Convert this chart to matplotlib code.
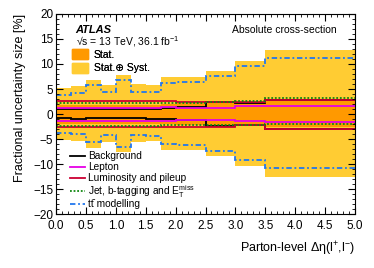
import matplotlib
matplotlib.use("Agg")
import matplotlib.pyplot as plt
from matplotlib.patches import Patch
from matplotlib.ticker import MultipleLocator
import numpy as np

plt.rcParams['font.family'] = ['Liberation Sans', 'DejaVu Sans']
plt.rcParams['mathtext.fontset'] = 'custom'
plt.rcParams['mathtext.rm'] = 'Liberation Sans'
plt.rcParams['mathtext.it'] = 'Liberation Sans:italic'

# bin edges of parton-level delta eta
edges = [0, 0.25, 0.5, 0.75, 1.0, 1.25, 1.5, 1.75, 2.0, 2.5, 3.0, 3.5, 5.0]

# total (stat + syst) band
total_up = [5.3, 5.7, 6.8, 5.9, 7.8, 6.1, 5.9, 7.3, 7.4, 8.6, 10.5, 12.8]
total_dn = [-5.1, -5.3, -6.7, -5.6, -7.5, -5.5, -5.4, -7.1, -7.2, -8.4, -10.3, -12.5]

# statistical band
stat_up = [1.9, 1.9, 1.9, 1.9, 1.9, 1.9, 1.9, 2.0, 2.2, 2.2, 2.4, 3.0]
stat_dn = [-1.9, -1.9, -1.9, -1.9, -1.9, -1.9, -1.9, -2.0, -2.1, -2.1, -2.3, -2.6]

# individual systematics
bkg_up = [1.0, 1.1, 1.0, 1.1, 1.0, 1.0, 1.1, 1.3, 1.4, 2.4, 2.2, 2.9]
bkg_dn = [-0.8, -0.9, -0.8, -0.8, -0.8, -0.8, -0.9, -1.0, -1.2, -2.3, -2.1, -2.9]
lep_up = [1.3, 1.3, 1.3, 1.3, 1.3, 1.3, 1.3, 1.4, 1.3, 1.3, 1.6, 1.7]
lep_dn = [-1.3, -1.3, -1.3, -1.3, -1.3, -1.3, -1.3, -1.3, -1.1, -1.1, -1.3, -1.5]
lumi_up = [2.6, 2.6, 2.6, 2.6, 2.6, 2.6, 2.6, 2.6, 2.5, 2.5, 2.4, 2.9]
lumi_dn = [-2.6, -2.6, -2.6, -2.6, -2.6, -2.6, -2.6, -2.5, -2.5, -2.5, -2.1, -2.9]
jet_up = [2.3, 2.3, 2.3, 2.3, 2.3, 2.3, 2.3, 2.3, 2.2, 2.4, 2.7, 3.3]
jet_dn = [-2.3, -2.3, -2.3, -2.3, -2.3, -2.3, -2.3, -2.2, -2.1, -2.1, -2.1, -2.0]
tt_up = [3.9, 4.3, 5.9, 4.4, 6.8, 4.5, 4.4, 6.3, 6.4, 7.6, 9.5, 11.1]
tt_dn = [-3.7, -3.9, -5.5, -4.2, -6.5, -4.2, -4.3, -5.9, -6.1, -7.3, -9.2, -10.7]

c_tot = '#ffcc33'
c_stat = '#ff9900'
dotted = (0, (1, 1))
dashdot = (0, (3, 1.5, 1, 1.5))

systs = [
    ('Background', bkg_up, bkg_dn, 'black', '-'),
    ('Lepton', lep_up, lep_dn, '#e600e6', '-'),
    ('Luminosity and pileup', lumi_up, lumi_dn, '#cc0033', '-'),
    ('Jet, b-tagging and E$_{\\mathrm{T}}^{\\mathrm{miss}}$', jet_up, jet_dn, '#118811', dotted),
    ('tt\u0304 modelling', tt_up, tt_dn, '#2277ee', dashdot),
]

fig = plt.figure(figsize=(3.74, 2.68), dpi=100)
ax = fig.add_axes([0.150, 0.201, 0.799, 0.747])

ax.stairs(total_up, edges, baseline=total_dn, fill=True, color=c_tot, lw=0)
ax.stairs(stat_up, edges, baseline=stat_dn, fill=True, color=c_stat, lw=0)

for name, up, dn, col, ls in systs:
    ax.stairs(up, edges, baseline=None, color=col, ls=ls, lw=1.3)
    ax.stairs(dn, edges, baseline=None, color=col, ls=ls, lw=1.3)

ax.set_xlim(0, 5)
ax.set_ylim(-20, 20)
ax.xaxis.set_major_locator(MultipleLocator(0.5))
ax.xaxis.set_minor_locator(MultipleLocator(0.1))
ax.yaxis.set_major_locator(MultipleLocator(5))
ax.yaxis.set_minor_locator(MultipleLocator(1))
ax.tick_params(which='both', direction='in', top=True, right=True, labelsize=8.5)
ax.tick_params(axis='x', pad=4)
ax.tick_params(axis='y', pad=2)
ax.tick_params(which='major', length=5)
ax.tick_params(which='minor', length=2.5)
for s in ax.spines.values():
    s.set_linewidth(0.8)

ax.set_ylabel('Fractional uncertainty size [%]', fontsize=9, loc='top', labelpad=5)
ax.set_xlabel('Parton-level \u0394\u03b7(l$^{+}$,l$^{-}$)', fontsize=9, loc='right', labelpad=6)

ax.text(0.065, 0.905, 'ATLAS', transform=ax.transAxes, fontsize=8, fontweight='bold', style='italic')
ax.text(0.065, 0.84, '\u221as = 13 TeV, 36.1 fb$^{-1}$', transform=ax.transAxes, fontsize=7.5)
ax.text(0.765, 0.905, 'Absolute cross-section', transform=ax.transAxes, fontsize=7.5, ha='center')

h1 = [Patch(color=c_stat), Patch(color=c_tot)]
leg1 = ax.legend(h1, ['Stat.', 'Stat.\u2295 Syst.'], loc='upper left', bbox_to_anchor=(0.035, 0.85),
                 frameon=False, fontsize=7.5, handlelength=1.6, handleheight=1.1,
                 labelspacing=0.3, borderpad=0, handletextpad=0.5)
ax.add_artist(leg1)

# hand-placed legend for the systematic lines (extra room around the E_T^miss row)
row_ys = [0.29, 0.235, 0.18, 0.115, 0.05]
for (name, up, dn, col, ls), ry in zip(systs, row_ys):
    ax.plot([0.047, 0.097], [ry, ry], transform=ax.transAxes, color=col, ls=ls, lw=1.3)
    ax.text(0.107, ry, name, transform=ax.transAxes, fontsize=7.3, va='center')

fig.savefig('out.png', dpi=100)
